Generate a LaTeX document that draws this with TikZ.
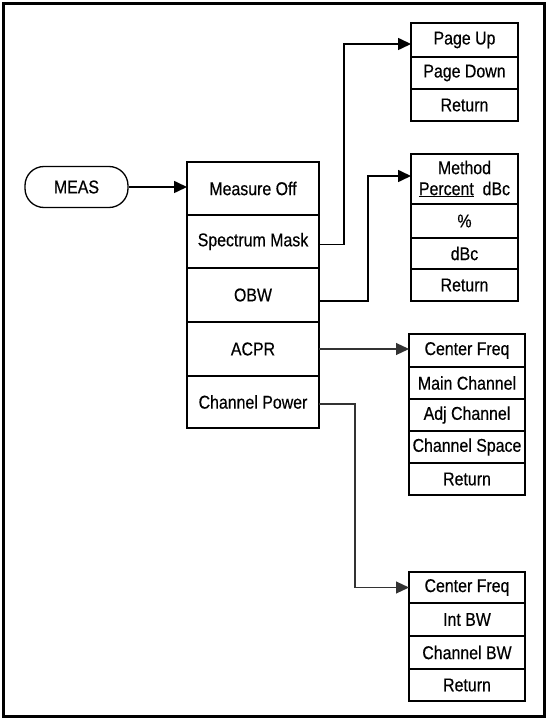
\documentclass[tikz,border=0pt]{standalone}
\usepackage{fontspec}
\setmainfont{Liberation Sans}[FakeStretch=0.86,FakeBold=0.4]
\usetikzlibrary{arrows.meta}
\begin{document}
\begin{tikzpicture}[x=1pt,y=-1pt,
  cell/.style={draw,line width=1.8pt,inner sep=0pt,outer sep=0pt,align=center,
    font=\fontsize{18.5}{20}\selectfont},
  mcell/.style={cell,minimum width=132pt},
  scell/.style={cell,minimum width=107pt},
  wcell/.style={cell,minimum width=116pt},
  conn/.style={line width=1.6pt,-{Triangle[length=13pt,width=12pt]}},
  thinconn/.style={line width=1.1pt,draw=black!80,-{Triangle[length=13pt,width=12pt]}},
  keybox/.style={draw,line width=1.3pt,rounded corners=19pt,minimum width=103pt,minimum height=41pt,
    inner sep=0pt,font=\fontsize{18.5}{20}\selectfont}]
\useasboundingbox (0,0) rectangle (548,719);
\draw[line width=3pt] (3,4) rectangle (544,716);

% MEAS key
\node[keybox] (meas) at (76.5,187) {MEAS};

% main menu
\node[mcell,minimum height=53pt] (m1) at (253,188.5) {Measure Off};
\node[mcell,minimum height=53pt] (m2) at (253,241.5) {Spectrum Mask};
\node[mcell,minimum height=54pt] (m3) at (253,295) {OBW};
\node[mcell,minimum height=54pt] (m4) at (253,349) {ACPR};
\node[mcell,minimum height=52pt] (m5) at (253,402) {Channel Power};

% spectrum mask submenu
\node[scell,minimum height=34pt] (p1) at (464.5,40) {Page Up};
\node[scell,minimum height=32pt] (p2) at (464.5,73) {Page Down};
\node[scell,minimum height=32pt] (p3) at (464.5,105) {Return};

% OBW submenu
\node[scell,minimum height=50pt] (q1) at (464.5,179) {Method\\[1pt]\underline{Percent}\ \ dBc};
\node[scell,minimum height=34pt] (q2) at (464.5,221) {\%};
\node[scell,minimum height=31pt] (q3) at (464.5,253.5) {dBc};
\node[scell,minimum height=32pt] (q4) at (464.5,285) {Return};

% ACPR submenu
\node[wcell,minimum height=33pt] (a1) at (467,350.5) {Center Freq};
\node[wcell,minimum height=32pt] (a2) at (467,383) {Main Channel};
\node[wcell,minimum height=32pt] (a3) at (467,415) {Adj Channel};
\node[wcell,minimum height=32pt] (a4) at (467,447) {Channel Space};
\node[wcell,minimum height=32pt] (a5) at (467,479) {Return};

% Channel power submenu
\node[wcell,minimum height=31pt] (c1) at (467,587.5) {Center Freq};
\node[wcell,minimum height=33pt] (c2) at (467,619.5) {Int BW};
\node[wcell,minimum height=33pt] (c3) at (467,652.5) {Channel BW};
\node[wcell,minimum height=32pt] (c4) at (467,685) {Return};

% connectors
\draw[conn] (meas.east) -- (meas.east -| m1.west);
\draw[conn] ([yshift=-3pt]m2.east) -- ++(25,0) |- ([yshift=-4pt]p1.west);
\draw[conn] ([yshift=-6pt]m3.east) -- ++(49,0) |- ([yshift=3pt]q1.west);
\draw[thinconn] (m4.east) -- (m4.east -| a1.west);
\draw[thinconn] ([yshift=-2pt]m5.east) -- ++(36,0) |- (c1.west);
\end{tikzpicture}
\end{document}
